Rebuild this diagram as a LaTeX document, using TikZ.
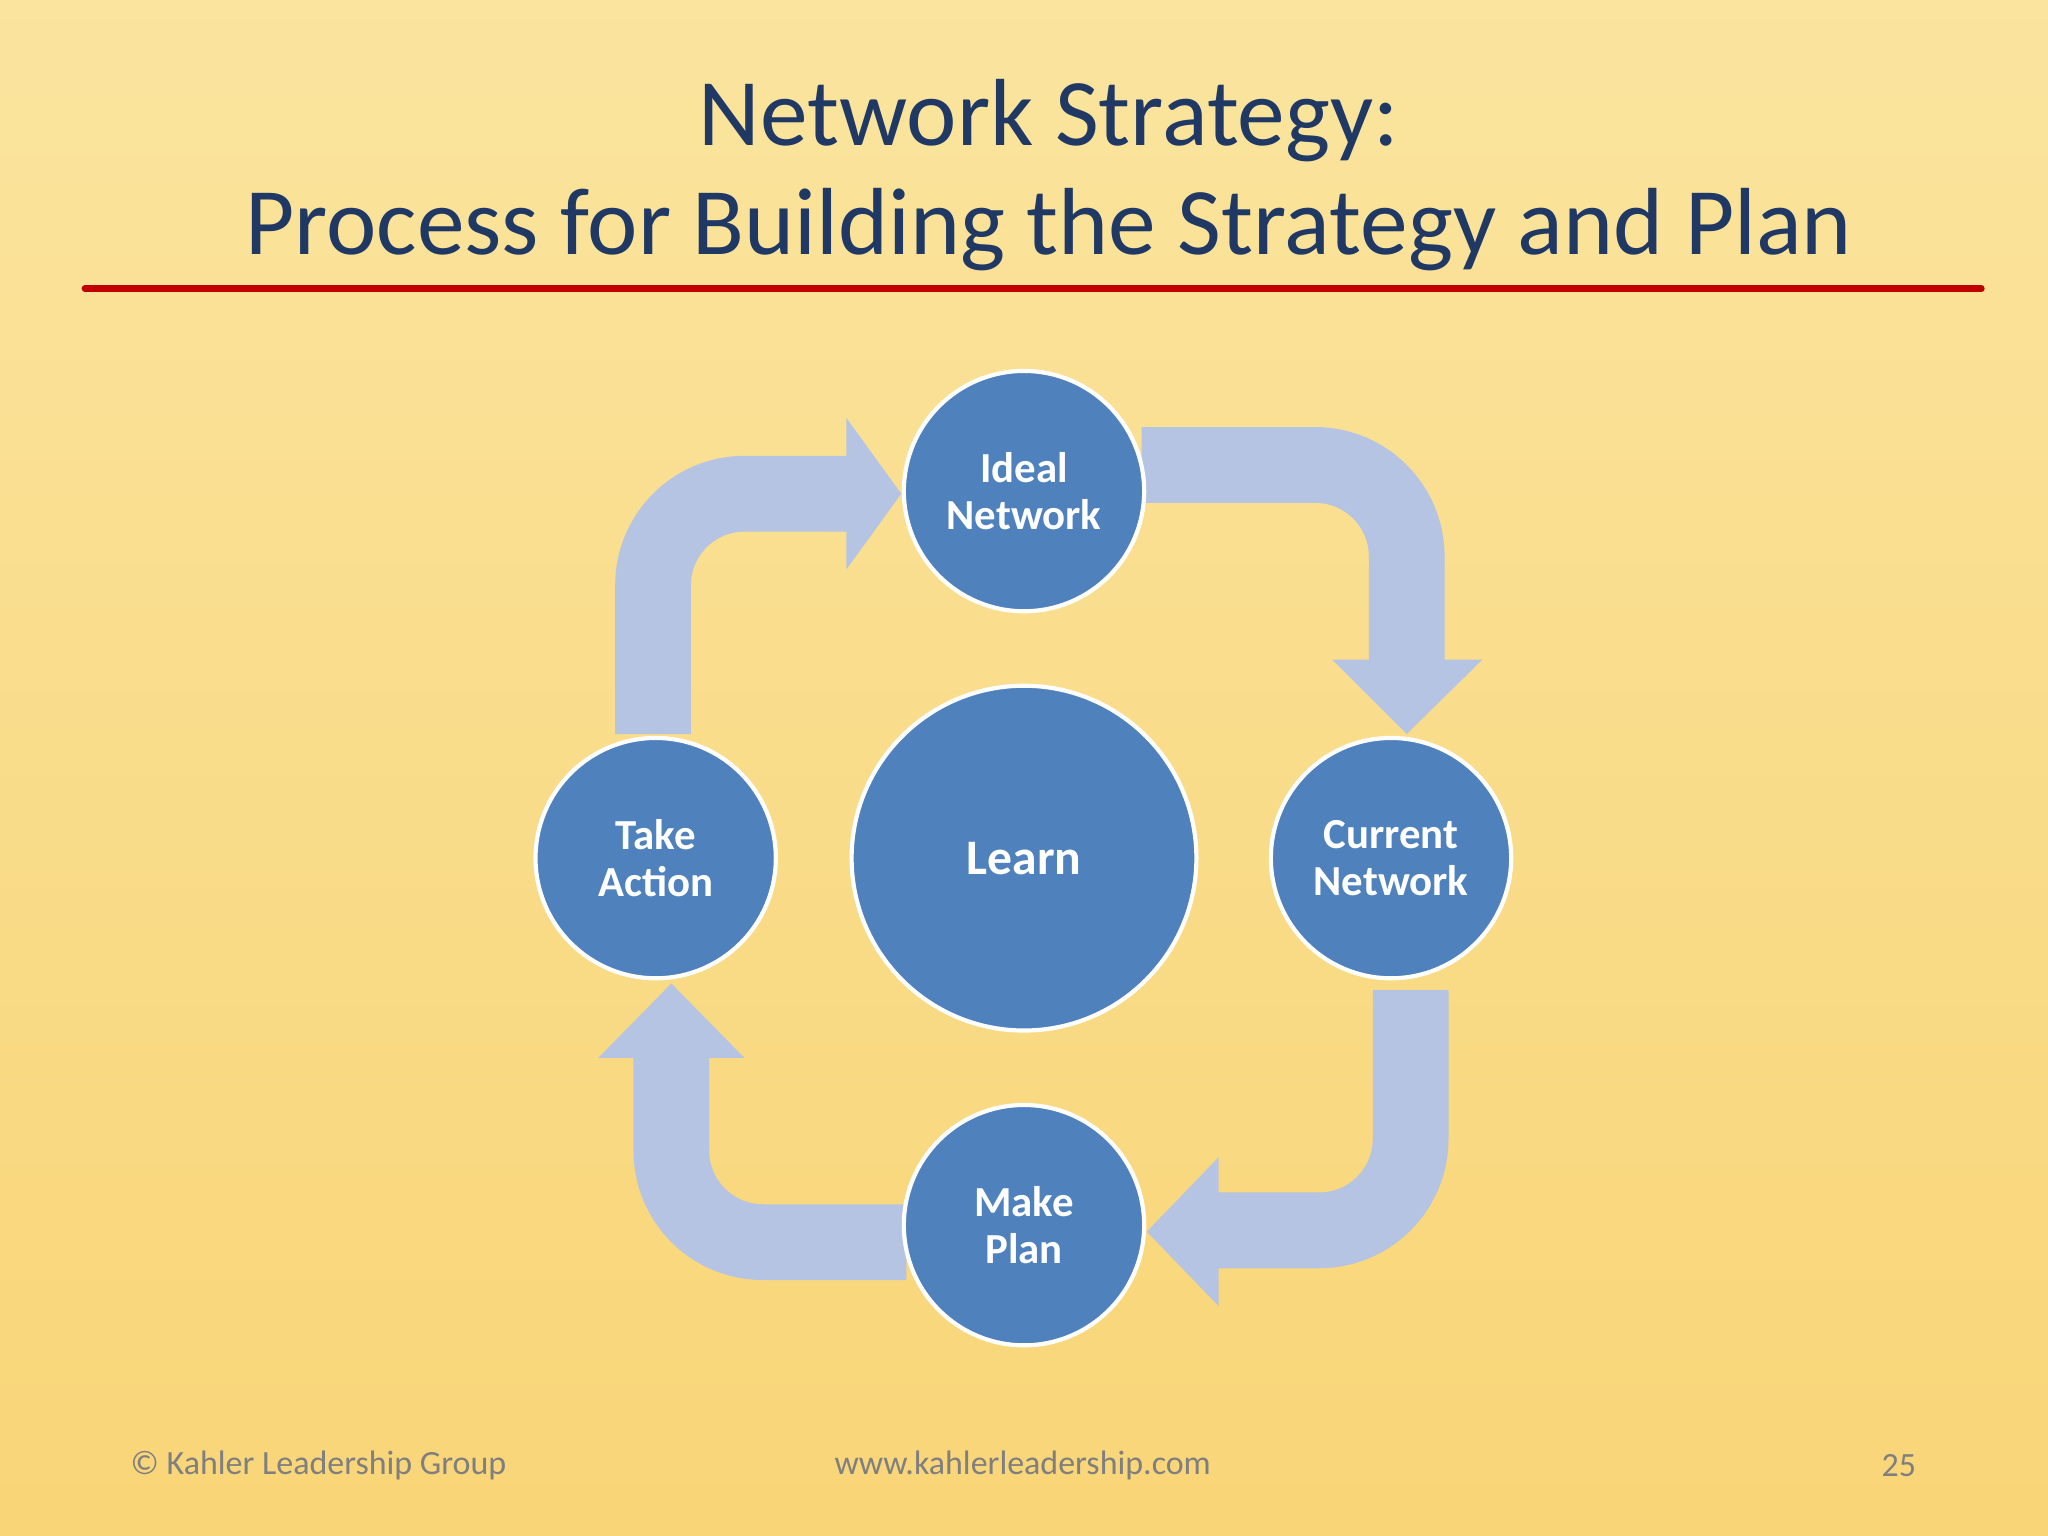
\documentclass[tikz,border=0pt]{standalone}
\usepackage{fontspec}
\setmainfont{Carlito}
\definecolor{navy}{HTML}{1F3864}
\definecolor{redline}{HTML}{C00000}
\definecolor{cfill}{HTML}{4F81BD}
\definecolor{arr}{HTML}{B4C4E2}
\definecolor{bgtop}{HTML}{FAE49E}
\definecolor{bgbot}{HTML}{F9D577}
\definecolor{foot}{HTML}{7F7F7F}
\tikzset{
  stage/.style={circle,fill=cfill,draw=white,line width=1.6pt,minimum size=92pt,inner sep=0pt,
    text=white,font=\fontsize{16.4}{18}\selectfont\bfseries,align=center},
  shaft/.style={draw=arr,line width=29pt,rounded corners=35pt},
  head/.style={fill=arr},
  footer/.style={text=foot,font=\fontsize{13}{15}\selectfont}
}
\begin{document}
\begin{tikzpicture}[x=0.5pt,y=-0.5pt]
\shade[top color=bgtop,bottom color=bgbot] (0,0) rectangle (1568,1176);
\useasboundingbox (0,0) rectangle (1568,1176);
\node[text=navy,font=\fontsize{36.5}{40}\selectfont] (t1) at (803,92) {Network Strategy:};
\node[text=navy,font=\fontsize{36.5}{40}\selectfont] (t2) at (803,176) {Process for Building the Strategy and Plan};
\coordinate (la) at (65,221); \coordinate (lb) at (1517,221);
\draw[redline,line width=2.5pt,line cap=round] (la) -- (lb);
% arrows
\draw[shaft] (500,562) -- (500,378) -- (650,378);
\fill[head] (648,320) -- (690,378) -- (648,436) -- cycle;
\draw[shaft] (874,356) -- (1077,356) -- (1077,507);
\fill[head] (1020,505) -- (1077,562) -- (1135,505) -- cycle;
\draw[shaft] (1080,758) -- (1080,942) -- (931,942);
\fill[head] (933,886) -- (878,943) -- (933,1000) -- cycle;
\draw[shaft] (694,951) -- (514,951) -- (514,808);
\fill[head] (458,810) -- (514,753) -- (570,810) -- cycle;
% circles
\node[stage] (ideal) at (784,376) {Ideal\\Network};
\node[stage] (cur) at (1065,657) {Current\\Network};
\node[stage] (plan) at (784,938) {Make\\Plan};
\node[stage] (act) at (502,657) {Take\\Action};
\node[stage,minimum size=132pt,font=\fontsize{19}{22}\selectfont\bfseries] (learn) at (784,657) {Learn};
\node[footer,anchor=west] (f1) at (93,1122) {© Kahler Leadership Group};
\node[footer] (f2) at (783,1122) {www.kahlerleadership.com};
\node[footer,anchor=east] (f3) at (1474,1122) {25};
\end{tikzpicture}
\end{document}
